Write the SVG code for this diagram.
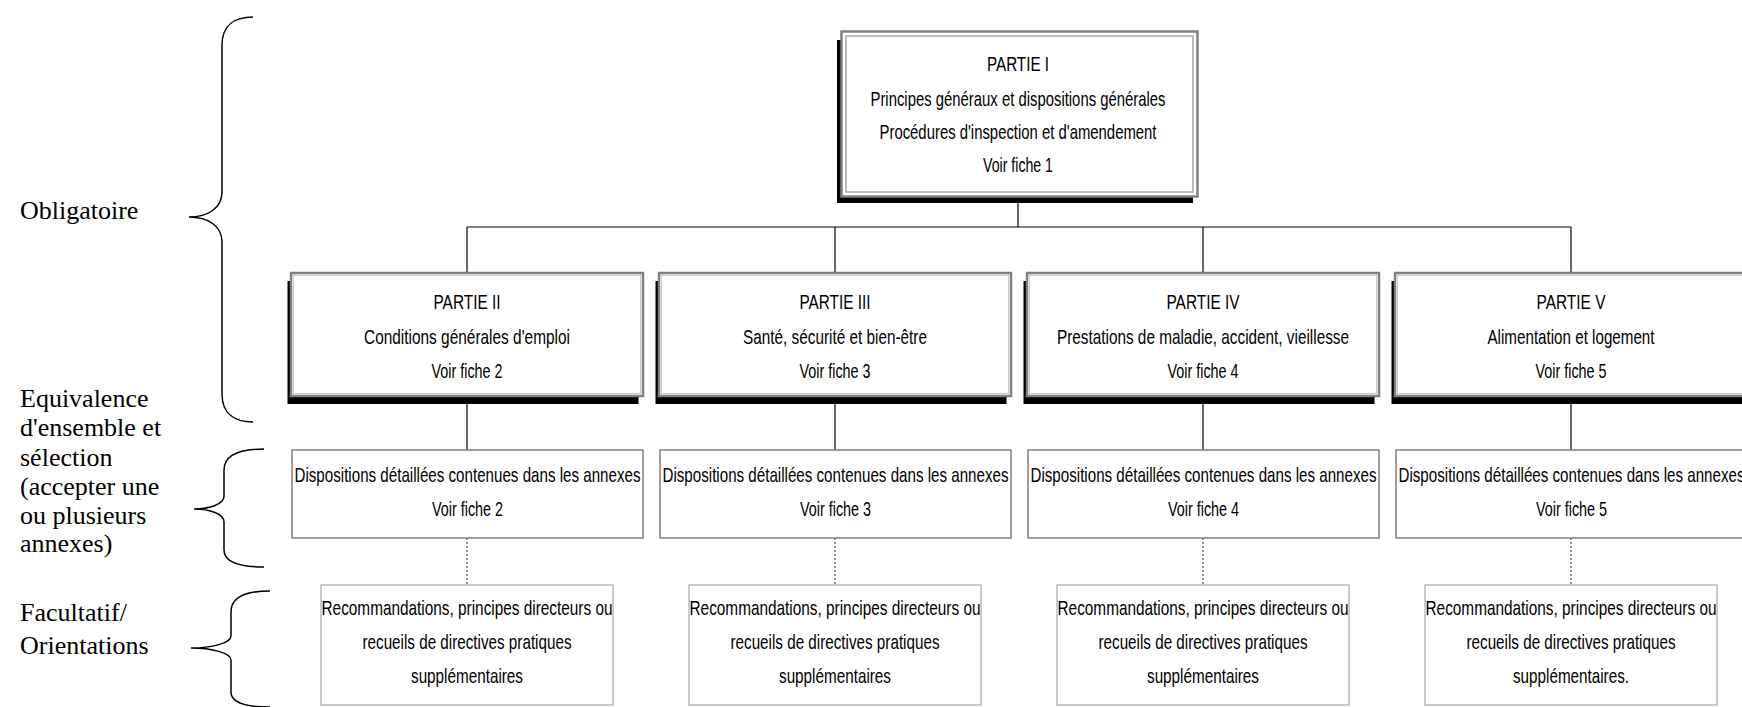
<svg xmlns="http://www.w3.org/2000/svg" width="1742" height="707" viewBox="0 0 1742 707">
<style>
.t{font-family:"Liberation Sans Narrow","Arial Narrow","Liberation Sans",Arial,sans-serif;font-size:21px;fill:#000;text-anchor:middle}
.lbl{font-family:"Liberation Serif","Times New Roman",serif;font-size:26px;fill:#000}
.brace{fill:none;stroke:#000;stroke-width:1.5}
.shadow{fill:#000}
.main{fill:#fff;stroke:#808080;stroke-width:2.5}
.inner{fill:none;stroke:#c8c8c8;stroke-width:1}
.ann{fill:#fff;stroke:#808080;stroke-width:1.5}
.rec{fill:#fff;stroke:#999;stroke-width:1}
.line{stroke:#000;stroke-width:1.2;fill:none}
.dot{stroke:#333;stroke-width:1;stroke-dasharray:2 2;fill:none}
</style>
<rect width="1742" height="707" fill="#fff"/>

<g id="labels">
<text class="lbl" x="20" y="219">Obligatoire</text>
<text class="lbl" x="20" y="407">Equivalence</text>
<text class="lbl" x="20" y="436">d'ensemble et</text>
<text class="lbl" x="20" y="466">sélection</text>
<text class="lbl" x="20" y="495">(accepter une</text>
<text class="lbl" x="20" y="524">ou plusieurs</text>
<text class="lbl" x="20" y="552">annexes)</text>
<text class="lbl" x="20" y="621">Facultatif/</text>
<text class="lbl" x="20" y="654">Orientations</text>
</g>

<g id="braces">
<path class="brace" d="M253,17 C235,17 222,25 222,45 L222,192 C222,208 208,217 189,217 C208,217 222,226 222,242 L222,394 C222,414 235,422 253,422"/>
<path class="brace" d="M264,449 C240,449 224,455 224,470 L224,496 C224,504 210,509 194,509 C210,509 224,514 224,522 L224,550 C224,562 240,567 264,567"/>
<path class="brace" d="M270,591 C245,591 231,597 231,612 L231,636 C231,643 212,648 191,648 C212,648 231,653 231,660 L231,692 C231,703 245,707 270,707"/>
</g>

<g id="connectors">
<line class="line" x1="1018" y1="197" x2="1018" y2="227"/>
<line class="line" x1="467" y1="227" x2="1571" y2="227"/>
<line class="line" x1="467" y1="227" x2="467" y2="273"/>
<line class="line" x1="835" y1="227" x2="835" y2="273"/>
<line class="line" x1="1203" y1="227" x2="1203" y2="273"/>
<line class="line" x1="1571" y1="227" x2="1571" y2="273"/>
<line class="line" x1="467" y1="400" x2="467" y2="450"/>
<line class="line" x1="835" y1="400" x2="835" y2="450"/>
<line class="line" x1="1203" y1="400" x2="1203" y2="450"/>
<line class="line" x1="1571" y1="400" x2="1571" y2="450"/>
<line class="dot" x1="467" y1="538" x2="467" y2="585"/>
<line class="dot" x1="835" y1="538" x2="835" y2="585"/>
<line class="dot" x1="1203" y1="538" x2="1203" y2="585"/>
<line class="dot" x1="1571" y1="538" x2="1571" y2="585"/>
</g>

<g id="partie1">
<rect class="shadow" x="837" y="40" width="356" height="163"/>
<rect class="main" x="841.5" y="31.5" width="356" height="165"/>
<rect class="inner" x="846" y="36" width="347" height="156" style="stroke:#a8a8a8;stroke-width:1.5"/>
<text class="t" x="1018" y="71" textLength="62" lengthAdjust="spacingAndGlyphs">PARTIE I</text>
<text class="t" x="1018" y="106" textLength="295" lengthAdjust="spacingAndGlyphs">Principes généraux et dispositions générales</text>
<text class="t" x="1018" y="139" textLength="277" lengthAdjust="spacingAndGlyphs">Procédures d'inspection et d'amendement</text>
<text class="t" x="1018" y="172" textLength="70" lengthAdjust="spacingAndGlyphs">Voir fiche 1</text>
</g>

<g id="partie2">
<rect class="shadow" x="287.5" y="281" width="351" height="123"/>
<rect class="main" x="291" y="273" width="352" height="123"/>
<rect class="inner" x="293.5" y="275.5" width="347" height="118"/>
<text class="t" x="467" y="309" textLength="67" lengthAdjust="spacingAndGlyphs">PARTIE II</text>
<text class="t" x="467" y="344" textLength="206" lengthAdjust="spacingAndGlyphs">Conditions générales d'emploi</text>
<text class="t" x="467" y="378" textLength="71" lengthAdjust="spacingAndGlyphs">Voir fiche 2</text>
</g>

<g id="partie3">
<rect class="shadow" x="655.5" y="281" width="351" height="123"/>
<rect class="main" x="659" y="273" width="352" height="123"/>
<rect class="inner" x="661.5" y="275.5" width="347" height="118"/>
<text class="t" x="835" y="309" textLength="71" lengthAdjust="spacingAndGlyphs">PARTIE III</text>
<text class="t" x="835" y="344" textLength="184" lengthAdjust="spacingAndGlyphs">Santé, sécurité et bien-être</text>
<text class="t" x="835" y="378" textLength="71" lengthAdjust="spacingAndGlyphs">Voir fiche 3</text>
</g>

<g id="partie4">
<rect class="shadow" x="1023.5" y="281" width="351" height="123"/>
<rect class="main" x="1027" y="273" width="352" height="123"/>
<rect class="inner" x="1029.5" y="275.5" width="347" height="118"/>
<text class="t" x="1203" y="309" textLength="73" lengthAdjust="spacingAndGlyphs">PARTIE IV</text>
<text class="t" x="1203" y="344" textLength="292" lengthAdjust="spacingAndGlyphs">Prestations de maladie, accident, vieillesse</text>
<text class="t" x="1203" y="378" textLength="71" lengthAdjust="spacingAndGlyphs">Voir fiche 4</text>
</g>

<g id="partie5">
<rect class="shadow" x="1391.5" y="281" width="351" height="123"/>
<rect class="main" x="1395" y="273" width="352" height="123"/>
<rect class="inner" x="1397.5" y="275.5" width="347" height="118"/>
<text class="t" x="1571" y="309" textLength="69" lengthAdjust="spacingAndGlyphs">PARTIE V</text>
<text class="t" x="1571" y="344" textLength="167" lengthAdjust="spacingAndGlyphs">Alimentation et logement</text>
<text class="t" x="1571" y="378" textLength="71" lengthAdjust="spacingAndGlyphs">Voir fiche 5</text>
</g>

<g id="annexes2">
<rect class="ann" x="292" y="450" width="351" height="88"/>
<text class="t" x="467.5" y="482" textLength="346" lengthAdjust="spacingAndGlyphs">Dispositions détaillées contenues dans les annexes</text>
<text class="t" x="467.5" y="516" textLength="71" lengthAdjust="spacingAndGlyphs">Voir fiche 2</text>
</g>
<g id="annexes3">
<rect class="ann" x="660" y="450" width="351" height="88"/>
<text class="t" x="835.5" y="482" textLength="346" lengthAdjust="spacingAndGlyphs">Dispositions détaillées contenues dans les annexes</text>
<text class="t" x="835.5" y="516" textLength="71" lengthAdjust="spacingAndGlyphs">Voir fiche 3</text>
</g>
<g id="annexes4">
<rect class="ann" x="1028" y="450" width="351" height="88"/>
<text class="t" x="1203.5" y="482" textLength="346" lengthAdjust="spacingAndGlyphs">Dispositions détaillées contenues dans les annexes</text>
<text class="t" x="1203.5" y="516" textLength="71" lengthAdjust="spacingAndGlyphs">Voir fiche 4</text>
</g>
<g id="annexes5">
<rect class="ann" x="1396" y="450" width="351" height="88"/>
<text class="t" x="1571.5" y="482" textLength="346" lengthAdjust="spacingAndGlyphs">Dispositions détaillées contenues dans les annexes</text>
<text class="t" x="1571.5" y="516" textLength="71" lengthAdjust="spacingAndGlyphs">Voir fiche 5</text>
</g>

<g id="reco2">
<rect class="rec" x="321" y="585" width="292" height="120"/>
<text class="t" x="467" y="615" textLength="291" lengthAdjust="spacingAndGlyphs">Recommandations, principes directeurs ou</text>
<text class="t" x="467" y="649" textLength="209" lengthAdjust="spacingAndGlyphs">recueils de directives pratiques</text>
<text class="t" x="467" y="683" textLength="112" lengthAdjust="spacingAndGlyphs">supplémentaires</text>
</g>
<g id="reco3">
<rect class="rec" x="689" y="585" width="292" height="120"/>
<text class="t" x="835" y="615" textLength="291" lengthAdjust="spacingAndGlyphs">Recommandations, principes directeurs ou</text>
<text class="t" x="835" y="649" textLength="209" lengthAdjust="spacingAndGlyphs">recueils de directives pratiques</text>
<text class="t" x="835" y="683" textLength="112" lengthAdjust="spacingAndGlyphs">supplémentaires</text>
</g>
<g id="reco4">
<rect class="rec" x="1057" y="585" width="292" height="120"/>
<text class="t" x="1203" y="615" textLength="291" lengthAdjust="spacingAndGlyphs">Recommandations, principes directeurs ou</text>
<text class="t" x="1203" y="649" textLength="209" lengthAdjust="spacingAndGlyphs">recueils de directives pratiques</text>
<text class="t" x="1203" y="683" textLength="112" lengthAdjust="spacingAndGlyphs">supplémentaires</text>
</g>
<g id="reco5">
<rect class="rec" x="1425" y="585" width="292" height="120"/>
<text class="t" x="1571" y="615" textLength="291" lengthAdjust="spacingAndGlyphs">Recommandations, principes directeurs ou</text>
<text class="t" x="1571" y="649" textLength="209" lengthAdjust="spacingAndGlyphs">recueils de directives pratiques</text>
<text class="t" x="1571" y="683" textLength="116" lengthAdjust="spacingAndGlyphs">supplémentaires.</text>
</g>
</svg>
